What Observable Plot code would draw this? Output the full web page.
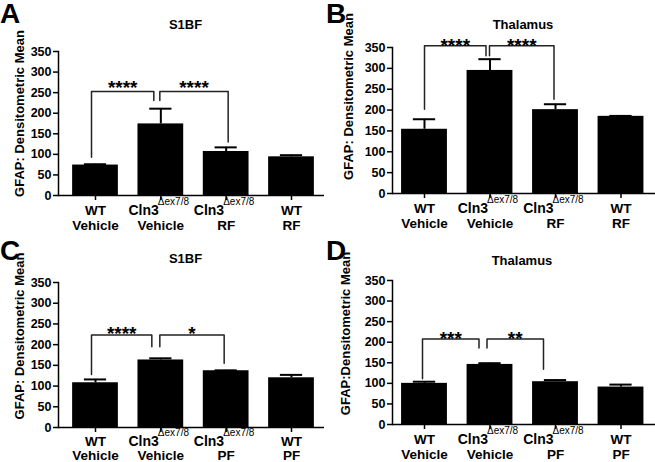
<!DOCTYPE html>
<html><head><meta charset="utf-8">
<script src="https://cdn.jsdelivr.net/npm/d3@7"></script>
<script src="https://cdn.jsdelivr.net/npm/@observablehq/plot@0.6"></script>
<style>
body{margin:0;background:#fff;}
#fig{position:relative;width:655px;height:462px;overflow:hidden;background:#fff;font-family:"Liberation Sans",Arial,sans-serif;}
.panel{position:absolute;}
.letter{position:absolute;font-weight:bold;font-size:28px;line-height:28px;color:#000;}
</style></head><body><div id="fig"></div>
<script>
// ---- data ----
const genotypes = ["WT", "Cln3", "Cln3", "WT"];
const treatRF = ["Vehicle", "Vehicle", "RF", "RF"];
const treatPF = ["Vehicle", "Vehicle", "PF", "PF"];
const superscript = "\u0394ex7/8";
const yTicks = [0, 50, 100, 150, 200, 250, 300, 350];

const meanA = [74, 174, 107, 94];
const errA  = [76, 211, 117, 98];
const meanB = [154, 295, 201, 185];
const errB  = [178, 322, 214, 186];
const meanC = [108, 163, 137, 120];
const errC  = [116, 167, 138, 127];
const meanD = [100, 146, 104, 91];
const errD  = [104, 149, 108, 97];

// brackets: [from group, to group, bracket height, left leg bottom, right leg bottom, label]
const bracketsA = [[0, 1, 253, 93, 231, "****"], [1, 2, 253, 231, 130, "****"]];
const bracketsB = [[0, 1, 354, 202, 330, "****"], [1, 2, 354, 330, 226, "****"]];
const bracketsC = [[0, 1, 223, 128, 195, "****"], [1, 2, 223, 195, 155, "*"]];
const bracketsD = [[0, 1, 208, 111, 186, "***"], [1, 2, 208, 186, 134, "**"]];

const titles = ["S1BF", "Thalamus", "S1BF", "Thalamus"];
const yLabels = ["GFAP: Densitometric Mean", "GFAP: Densitometric Mean", "GFAP: Densitometric Mean", "GFAP:Densitometric Mean"];
const letters = ["A", "B", "C", "D"];

// ---- layout (pixels) ----
const W = 328, H = 231;
const layouts = [
  {L: 0,   T: 0,   axisX: 58,  endX: 324, y0: 195, y350: 51,  c0: 95,  c3: 291,   titleDx: -6, titleDy: -23, ylDx: -39, ylDy: -10, legs: [[-4, -7], [-1, 2]], starDy: -6, lab1: 19, lab2: 34},
  {L: 327, T: 0,   axisX: 392, endX: 655, y0: 193, y350: 47,  c0: 424, c3: 620.5, titleDx: -1, titleDy: -19, ylDx: -44, ylDy: -24, legs: [[0, -4], [-0.5, -1.5]], starDy: -3, lab1: 19, lab2: 34},
  {L: 0,   T: 231, axisX: 58,  endX: 324, y0: 427, y350: 282, c0: 95,  c3: 291,   titleDx: -6, titleDy: -20, ylDx: -39, ylDy: -19, legs: [[-4, -9], [-1, -2]], starDy: -4, lab1: 18, lab2: 32},
  {L: 327, T: 231, axisX: 392, endX: 655, y0: 424, y350: 280, c0: 424, c3: 620.5, titleDx: -2, titleDy: -16, ylDx: -47, ylDy: -19, legs: [[-2, -11], [-3, -12]], starDy: -3, lab1: 19, lab2: 34}
];

const panels = [
  {mean: meanA, err: errA, treat: treatRF, brackets: bracketsA},
  {mean: meanB, err: errB, treat: treatRF, brackets: bracketsB},
  {mean: meanC, err: errC, treat: treatPF, brackets: bracketsC},
  {mean: meanD, err: errD, treat: treatPF, brackets: bracketsD}
];

const fig = document.getElementById("fig");
const FONT = "Liberation Sans, Arial, sans-serif";

panels.forEach((p, k) => {
  const lay = layouts[k];
  const u = (lay.c3 - lay.c0) / 3;
  const rows = p.mean.map((m, i) => ({i, mean: m, err: p.err[i], geno: genotypes[i], treat: p.treat[i]}));
  const bracketLines = [];
  const starRows = [];
  p.brackets.forEach((b, j) => {
    const [from, to, h, yl, yr, lab] = b;
    const xl = from + lay.legs[j][0] / u, xr = to + lay.legs[j][1] / u;
    bracketLines.push({k: j, x: xl, y: yl}, {k: j, x: xl, y: h}, {k: j, x: xr, y: h}, {k: j, x: xr, y: yr});
    starRows.push({x: (xl + xr) / 2, y: h, lab});
  });
  const cln = rows.filter(r => r.geno === "Cln3");
  const chart = Plot.plot({
    width: W, height: H,
    marginLeft: lay.axisX - lay.L,
    marginRight: lay.L + W - lay.endX,
    marginTop: lay.y350 - lay.T,
    marginBottom: lay.T + H - lay.y0,
    style: {background: "none", overflow: "visible", fontFamily: FONT, color: "#000", fontSize: "12px"},
    x: {domain: [-0.5, 3.5], range: [lay.c0 - u / 2 - lay.L, lay.c3 + u / 2 - lay.L]},
    y: {domain: [0, 350]},
    marks: [
      Plot.rectY(rows, {x1: d => d.i - 0.35, x2: d => d.i + 0.35, y: "mean", fill: "#000"}),
      Plot.ruleX(rows, {x: "i", y1: "mean", y2: "err", strokeWidth: 2}),
      Plot.ruleY(rows, {y: "err", x1: d => d.i - 0.17, x2: d => d.i + 0.17, strokeWidth: 2}),
      Plot.line(bracketLines, {x: "x", y: "y", z: "k", stroke: "#222", strokeWidth: 1.5, curve: "linear"}),
      Plot.text(starRows, {x: "x", y: "y", text: "lab", fontSize: 19, fontWeight: "bold", lineAnchor: "bottom", dy: lay.starDy + 9}),
      Plot.axisY({ticks: yTicks, tickSize: 5, tickPadding: 2, fontSize: 12.5, fontWeight: "bold", strokeWidth: 1.5, label: null}),
      Plot.axisX({ticks: [0, 1, 2, 3], tickSize: 5, tickFormat: () => "", strokeWidth: 1.5, label: null}),
      Plot.frame({anchor: "left", strokeWidth: 1.5}),
      Plot.ruleY([0], {strokeWidth: 1.5}),
      // x labels line 1
      Plot.text(rows.filter(r => r.geno !== "Cln3"), {x: "i", y: () => 0, text: "geno", fontSize: 13.5, fontWeight: "bold", lineAnchor: "bottom", dy: lay.lab1}),
      Plot.text(cln, {x: "i", y: () => 0, text: "geno", fontSize: 14, fontWeight: "bold", lineAnchor: "bottom", textAnchor: "end", dy: lay.lab1, dx: -2}),
      Plot.text(cln, {x: "i", y: () => 0, text: () => superscript, fontSize: 10, fontWeight: "normal", lineAnchor: "bottom", textAnchor: "start", dy: lay.lab1 - 10, dx: -3}),
      // x labels line 2
      Plot.text(rows, {x: "i", y: () => 0, text: "treat", fontSize: 13.5, fontWeight: "bold", lineAnchor: "bottom", dy: lay.lab2}),
      // title
      Plot.text([titles[k]], {frameAnchor: "top", text: d => d, fontSize: 13, fontWeight: "bold", lineAnchor: "bottom", dx: lay.titleDx, dy: lay.titleDy}),
      // y label
      Plot.text([yLabels[k]], {frameAnchor: "left", text: d => d, rotate: -90, textAnchor: "middle", fontSize: 13, fontWeight: "bold", dx: lay.ylDx, dy: lay.ylDy})
    ]
  });
  const div = document.createElement("div");
  div.className = "panel";
  div.style.left = lay.L + "px";
  div.style.top = lay.T + "px";
  div.style.width = W + "px";
  div.appendChild(chart);
  fig.appendChild(div);
  const lt = document.createElement("div");
  lt.className = "letter";
  lt.textContent = letters[k];
  lt.style.left = (lay.L - (k % 2 ? 1 : 0)) + "px";
  lt.style.top = (lay.T + (k < 2 ? 0 : 6)) + "px";
  fig.appendChild(lt);
});
</script></body></html>
